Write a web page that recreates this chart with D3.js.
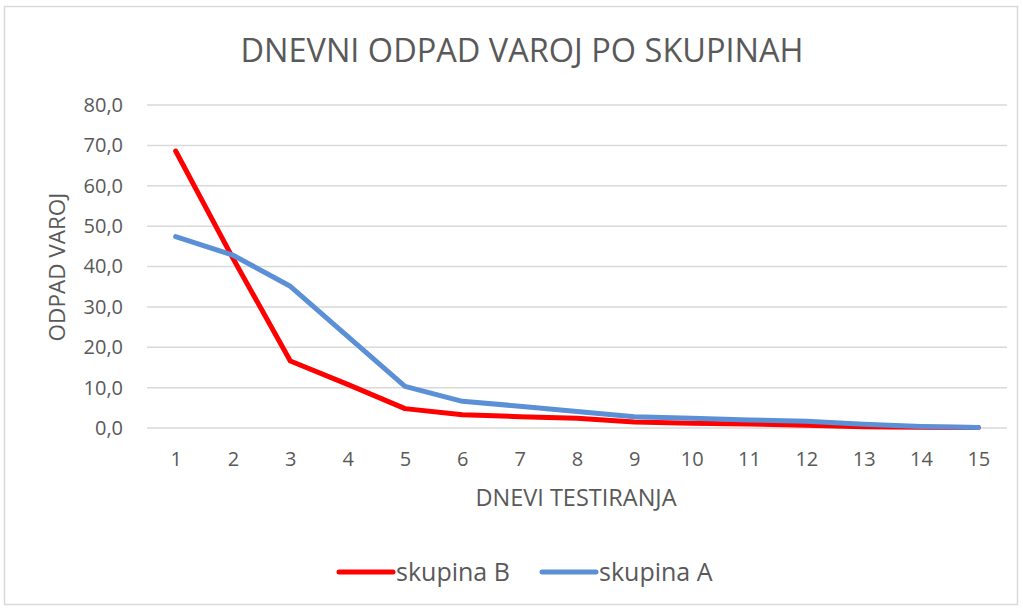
<!DOCTYPE html>
<html>
<head>
<meta charset="utf-8">
<script src="https://cdn.jsdelivr.net/npm/d3@7"></script>
<style>
  body { margin: 0; background: #fff; }
  text { font-family: "Open Sans", sans-serif; fill: #595959; }
</style>
</head>
<body>
<svg width="1023" height="610"></svg>
<script>
var days = [1,2,3,4,5,6,7,8,9,10,11,12,13,14,15]
var skupinaB = [68.6,42.0,16.6,10.8,4.8,3.3,2.8,2.4,1.5,1.2,1.0,0.7,0.3,0.2,0.1]
var skupinaA = [47.4,42.8,35.1,22.7,10.3,6.6,5.4,4.1,2.8,2.4,2.0,1.7,0.9,0.4,0.1]
var yTicks = [0,10,20,30,40,50,60,70,80]

var series = [
  {name: "skupina B", values: skupinaB, color: "#ff0000"},
  {name: "skupina A", values: skupinaA, color: "#5b8fd6"}
]

var margins = {top: 105, bottom: 182, left: 147, right: 16}
var screen = {width: 1023, height: 610}

var svg = d3.select("svg")

// chart frame
svg.append("rect")
   .attr("x", 4.5).attr("y", 6.5)
   .attr("width", 1013).attr("height", 598)
   .attr("fill", "none")
   .attr("stroke", "#d9d9d9")
   .attr("stroke-width", 1.5)

var xScale = d3.scalePoint()
               .domain(days)
               .range([margins.left, screen.width - margins.right])
               .padding(0.5)

var yScale = d3.scaleLinear()
               .domain([0, 80])
               .range([screen.height - margins.bottom, margins.top])

// gridlines
svg.append("g")
   .selectAll("line")
   .data(yTicks)
   .enter()
   .append("line")
   .attr("x1", margins.left)
   .attr("x2", screen.width - margins.right)
   .attr("y1", function(d){return yScale(d);})
   .attr("y2", function(d){return yScale(d);})
   .attr("stroke", "#d9d9d9")
   .attr("stroke-width", 1.5)

// y axis labels
var yAxis = d3.axisLeft(yScale)
              .tickValues(yTicks)
              .tickSize(0)
              .tickPadding(24)
              .tickFormat(function(d){return d.toFixed(1).replace(".", ",");})

var gy = svg.append("g")
            .attr("transform", "translate(" + margins.left + ",0)")
            .call(yAxis)
gy.select(".domain").remove()
gy.selectAll("text").style("font-size", "20px").attr("fill", "#595959")

// x axis labels
var xAxis = d3.axisBottom(xScale).tickSize(0).tickPadding(24)
var gx = svg.append("g")
            .attr("transform", "translate(0," + yScale(0) + ")")
            .call(xAxis)
gx.select(".domain").remove()
gx.selectAll("text").style("font-size", "20px").attr("fill", "#595959")

// lines
var line = d3.line()
             .x(function(d,i){return xScale(days[i]);})
             .y(function(d){return yScale(d);})

svg.append("g")
   .selectAll("path")
   .data(series)
   .enter()
   .append("path")
   .attr("d", function(d){return line(d.values);})
   .attr("fill", "none")
   .attr("stroke", function(d){return d.color;})
   .attr("stroke-width", 5)
   .attr("stroke-linecap", "round")
   .attr("stroke-linejoin", "round")

// title
svg.append("text")
   .attr("x", 522).attr("y", 62)
   .attr("text-anchor", "middle")
   .style("font-size", "32.5px")
   .text("DNEVNI ODPAD VAROJ PO SKUPINAH")

svg.append("text")
   .attr("x", 576).attr("y", 506)
   .attr("text-anchor", "middle")
   .style("font-size", "23.5px")
   .text("DNEVI TESTIRANJA")

svg.append("text")
   .attr("transform", "translate(65,267) rotate(-90)")
   .attr("text-anchor", "middle")
   .style("font-size", "22.5px")
   .text("ODPAD VAROJ")

// legend
var legendX = [337, 540]
var legend = svg.append("g")
                .selectAll("g")
                .data(series)
                .enter()
                .append("g")
                .attr("transform", function(d,i){return "translate(" + legendX[i] + ",572)";})

legend.append("line")
      .attr("x1", 2).attr("x2", 56)
      .attr("stroke", function(d){return d.color;})
      .attr("stroke-width", 5)
      .attr("stroke-linecap", "round")

legend.append("text")
      .attr("x", 59).attr("y", 9)
      .style("font-size", "25px")
      .text(function(d){return d.name;})
</script>
</body>
</html>
